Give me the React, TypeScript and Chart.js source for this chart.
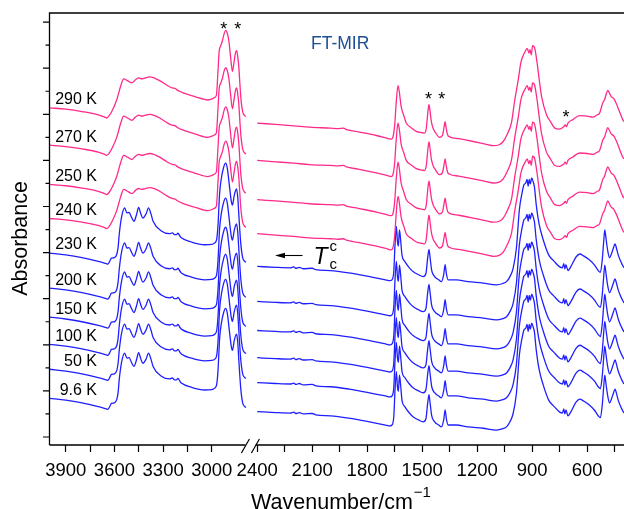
import React, { useEffect, useRef } from 'react';
import { Chart, registerables } from 'chart.js';

Chart.register(...registerables);

// ---------- data ----------
const temperatures = ['290 K', '270 K', '250 K', '240 K', '230 K', '200 K', '150 K', '100 K', '50 K', '9.6 K'];
// vertical stacking offset of each spectrum (absorbance, arb. units)
const offsets = [7.14, 6.33, 5.48, 4.74, 3.99, 3.23, 2.6, 2.01, 1.47, 0.84];
// true = above Tc (pink), false = below Tc (blue)
const aboveTc = [true, true, true, true, false, false, false, false, false, false];

// spectrum above Tc, high-wavenumber part
const pinkLeftWavenumbers = [4000, 3900, 3800, 3700, 3660, 3648, 3630, 3611, 3586, 3561, 3543, 3520, 3500, 3493, 3470, 3450, 3432, 3410, 3383, 3350, 3321, 3272, 3240, 3225, 3215, 3180, 3100, 3025, 2995, 2985, 2972, 2962, 2955, 2945, 2935, 2925, 2914, 2905, 2895, 2885, 2873, 2865, 2855, 2847, 2840, 2834, 2822, 2810, 2800, 2790];
const pinkLeftAbsorbance = [0, -0.03, -0.08, -0.15, -0.2, -0.22, -0.16, -0.04, 0.17, 0.48, 0.63, 0.59, 0.55, 0.54, 0.61, 0.65, 0.63, 0.65, 0.67, 0.64, 0.59, 0.48, 0.43, 0.42, 0.39, 0.33, 0.24, 0.17, 0.2, 0.22, 0.27, 0.8, 1.22, 1.35, 1.45, 1.6, 1.68, 1.62, 1.45, 1.12, 0.79, 0.95, 1.18, 1.24, 1.1, 0.9, 0.25, -0.08, -0.16, -0.19];
// spectrum above Tc, low-wavenumber part
const pinkRightWavenumbers = [2400, 2300, 2200, 2114, 2000, 1960, 1930, 1913, 1850, 1750, 1690, 1670, 1660, 1650, 1642, 1632, 1625, 1615, 1600, 1587, 1560, 1532, 1500, 1487, 1478, 1468, 1463, 1458, 1450, 1440, 1430, 1405, 1390, 1380, 1375, 1370, 1362, 1350, 1300, 1222, 1150, 1113, 1080, 1058, 1035, 1013, 995, 976, 962, 952, 940, 927, 918, 912, 905, 898, 886, 873, 860, 849, 822, 800, 777, 750, 728, 720, 713, 705, 680, 641, 600, 569, 545, 533, 515, 506, 496, 488, 480, 470, 455, 442, 425, 406, 400];
const pinkRightAbsorbance = [-0.33, -0.36, -0.39, -0.42, -0.44, -0.45, -0.44, -0.47, -0.52, -0.6, -0.66, -0.68, -0.64, -0.37, 0.1, 0.48, 0.35, 0.03, -0.17, -0.33, -0.43, -0.51, -0.54, -0.55, -0.45, -0.05, 0.07, -0.05, -0.3, -0.45, -0.52, -0.64, -0.6, -0.4, -0.3, -0.42, -0.58, -0.63, -0.67, -0.73, -0.79, -0.82, -0.8, -0.73, -0.56, -0.32, 0.17, 0.61, 0.98, 1.11, 1.21, 1.29, 1.19, 1.26, 1.15, 1.35, 1.29, 0.97, 0.56, 0.25, -0.15, -0.3, -0.44, -0.46, -0.41, -0.37, -0.41, -0.33, -0.26, -0.17, -0.18, -0.2, -0.15, -0.12, 0.11, 0.17, 0.3, 0.38, 0.33, 0.25, 0.2, 0.1, -0.07, -0.26, -0.3];

// spectrum below Tc, high-wavenumber part
const blueLeftWavenumbers = [4000, 3900, 3800, 3700, 3650, 3640, 3625, 3619, 3600, 3585, 3577, 3570, 3555, 3537, 3523, 3510, 3495, 3480, 3465, 3451, 3438, 3425, 3405, 3390, 3375, 3362, 3311, 3260, 3243, 3230, 3218, 3209, 3195, 3188, 3126, 3044, 3000, 2982, 2970, 2962, 2952, 2940, 2928, 2916, 2905, 2893, 2880, 2873, 2862, 2848, 2840, 2834, 2822, 2810, 2800, 2790];
const blueLeftAbsorbance = [0, -0.04, -0.1, -0.18, -0.23, -0.24, -0.15, -0.11, -0.1, -0.02, 0.14, 0.42, 0.8, 0.98, 0.87, 0.88, 0.78, 0.69, 0.82, 0.99, 0.86, 0.76, 0.85, 0.98, 0.85, 0.69, 0.48, 0.42, 0.44, 0.4, 0.4, 0.43, 0.36, 0.33, 0.24, 0.18, 0.19, 0.22, 0.3, 0.6, 1.3, 1.65, 1.85, 1.95, 1.85, 1.5, 1.12, 1.04, 1.25, 1.39, 1.2, 0.85, 0.22, -0.1, -0.17, -0.2];
// spectrum below Tc, low-wavenumber part
const blueRightWavenumbers = [2400, 2300, 2220, 2200, 2190, 2170, 2150, 2100, 2080, 2000, 1900, 1800, 1700, 1677, 1665, 1655, 1648, 1641, 1635, 1630, 1624, 1618, 1610, 1595, 1570, 1550, 1520, 1495, 1480, 1470, 1463, 1457, 1448, 1432, 1410, 1395, 1382, 1375, 1368, 1359, 1314, 1250, 1168, 1095, 1060, 1040, 1020, 1004, 986, 970, 955, 945, 935, 928, 922, 916, 910, 903, 895, 888, 878, 862, 840, 810, 780, 750, 735, 728, 722, 716, 705, 690, 660, 640, 620, 590, 560, 540, 528, 518, 510, 504, 497, 488, 478, 468, 458, 448, 440, 430, 415, 400];
const blueRightAbsorbance = [-0.29, -0.31, -0.32, -0.3, -0.33, -0.31, -0.34, -0.33, -0.36, -0.38, -0.43, -0.5, -0.58, -0.6, -0.58, -0.4, 0.2, 0.58, 0.25, 0.15, 0.5, 0.3, -0.05, -0.18, -0.32, -0.4, -0.47, -0.51, -0.45, -0.1, 0.08, -0.1, -0.38, -0.51, -0.58, -0.62, -0.45, -0.25, -0.45, -0.58, -0.58, -0.62, -0.65, -0.69, -0.66, -0.62, -0.5, -0.33, 0.11, 0.94, 1.31, 1.48, 1.52, 1.6, 1.45, 1.6, 1.5, 1.63, 1.55, 1.44, 1.05, 0.62, 0.29, -0.04, -0.18, -0.3, -0.32, -0.23, -0.34, -0.25, -0.38, -0.3, -0.08, -0.02, -0.06, -0.14, -0.26, -0.38, -0.42, -0.15, 0.25, 0.5, 0.3, 0.05, -0.1, -0.02, 0.1, 0.2, 0.1, -0.05, -0.2, -0.32];

// x-axis ticks (broken axis)
const tickWavenumbers = [3900, 3750, 3600, 3450, 3300, 3150, 3000, 2400, 2250, 2100, 1950, 1800, 1650, 1500, 1350, 1200, 1050, 900, 750, 600, 450];
const tickLabels = ['3900', '', '3600', '', '3300', '', '3000', '2400', '', '2100', '', '1800', '', '1500', '', '1200', '', '900', '', '600', ''];
// marked bands
const starWavenumbers = [2927, 2841, 1465, 1394, 716];
const starLevels = [8.94, 8.94, 7.42, 7.42, 7.03];

// ---------- layout helpers ----------
const PINK = '#ff2a8a';
const BLUE = '#1f1fff';
const FONT = '"Liberation Sans", Arial, Helvetica, sans-serif';
const AREA_LEFT = 49.5;
const AREA_TOP = 13;
const AREA_BOTTOM = 445;
const CANVAS_W = 640;
const CANVAS_H = 509;
const AREA_RIGHT = 625;
const Y_MIN = -8 / 46.1;
const Y_MAX = 424 / 46.1;

// broken wavenumber axis: 4000-2790 then 2400-400
function toAxis(w: number): number {
  return w > 2600 ? (4000 - w) * 0.16233 : 207.7 + (2400 - w) * 0.183333;
}

function buildPoints(ws: number[], as: number[], ws2: number[], as2: number[], off: number) {
  const pts: { x: number; y: number | null }[] = [];
  ws.forEach((w, i) => pts.push({ x: toAxis(w), y: as[i] + off }));
  pts.push({ x: (toAxis(2790) + toAxis(2400)) / 2, y: null });
  ws2.forEach((w, i) => pts.push({ x: toAxis(w), y: as2[i] + off }));
  return pts;
}

const decorPlugin = {
  id: 'decor',
  afterDraw(chart: any) {
    const ctx: CanvasRenderingContext2D = chart.ctx;
    const xs = chart.scales.x;
    const ys = chart.scales.y;
    ctx.save();
    ctx.strokeStyle = '#000';
    ctx.fillStyle = '#000';
    ctx.lineWidth = 1.3;
    // frame
    const bx1 = xs.getPixelForValue(toAxis(2790)) - 0.5;
    const bx2 = xs.getPixelForValue(toAxis(2400)) - 1.5;
    ctx.beginPath();
    ctx.moveTo(AREA_LEFT, AREA_BOTTOM);
    ctx.lineTo(AREA_LEFT, AREA_TOP);
    ctx.lineTo(CANVAS_W, AREA_TOP);
    ctx.moveTo(AREA_LEFT, AREA_BOTTOM);
    ctx.lineTo(bx1, AREA_BOTTOM);
    ctx.moveTo(bx2, AREA_BOTTOM);
    ctx.lineTo(CANVAS_W, AREA_BOTTOM);
    ctx.stroke();
    // break marks
    ctx.lineWidth = 1.2;
    ctx.beginPath();
    ctx.moveTo(bx1 - 4, AREA_BOTTOM + 8);
    ctx.lineTo(bx1 + 4, AREA_BOTTOM - 6);
    ctx.moveTo(bx1 + 6, AREA_BOTTOM + 8);
    ctx.lineTo(bx1 + 14, AREA_BOTTOM - 6);
    ctx.stroke();
    // y ticks (no labels)
    ctx.lineWidth = 1.2;
    ctx.beginPath();
    for (let n = 0; n <= 9; n++) {
      const py = ys.getPixelForValue(n);
      ctx.moveTo(AREA_LEFT - 6.5, py);
      ctx.lineTo(AREA_LEFT, py);
      if (n < 9) {
        const pm = ys.getPixelForValue(n + 0.5);
        ctx.moveTo(AREA_LEFT - 4, pm);
        ctx.lineTo(AREA_LEFT, pm);
      }
    }
    ctx.stroke();

    // temperature labels
    ctx.font = `16px ${FONT}`;
    ctx.textAlign = 'right';
    ctx.textBaseline = 'middle';
    temperatures.forEach((t, k) => {
      const py = ys.getPixelForValue(offsets[k]) - 8;
      ctx.fillText(t, 97, py);
    });

    // FT-MIR
    ctx.fillStyle = '#1d4f91';
    ctx.font = `17.5px ${FONT}`;
    ctx.textAlign = 'left';
    ctx.textBaseline = 'alphabetic';
    ctx.fillText('FT-MIR', 311, 49.3);

    // asterisks
    ctx.fillStyle = '#000';
    ctx.font = `18px ${FONT}`;
    ctx.textAlign = 'center';
    starWavenumbers.forEach((w, i) => {
      const px = xs.getPixelForValue(toAxis(w));
      const py = ys.getPixelForValue(starLevels[i]);
      ctx.fillText('*', px, py + 10);
    });

    // Tc arrow
    ctx.lineWidth = 1.1;
    ctx.beginPath();
    ctx.moveTo(283, 255.5);
    ctx.lineTo(302.5, 255.5);
    ctx.stroke();
    ctx.beginPath();
    ctx.moveTo(275, 255.5);
    ctx.lineTo(285, 252.7);
    ctx.lineTo(285, 258.3);
    ctx.closePath();
    ctx.fill();
    ctx.textAlign = 'left';
    ctx.font = `italic 23px ${FONT}`;
    ctx.fillText('T', 313.5, 263.7);
    ctx.font = `15px ${FONT}`;
    ctx.fillText('c', 329.5, 251.3);
    ctx.fillText('c', 329.5, 268.7);

    // axis titles
    ctx.font = `21.5px ${FONT}`;
    const main = 'Wavenumber/cm';
    const wMain = ctx.measureText(main).width;
    ctx.font = `15px ${FONT}`;
    const sup = '\u22121';
    const wSup = ctx.measureText(sup).width;
    const x0 = 341 - (wMain + wSup + 1) / 2;
    ctx.font = `21.5px ${FONT}`;
    ctx.fillText(main, x0, 509);
    ctx.font = `15px ${FONT}`;
    ctx.fillText(sup, x0 + wMain + 1, 497);

    ctx.save();
    ctx.translate(27, 238.5);
    ctx.rotate(-Math.PI / 2);
    ctx.textAlign = 'center';
    ctx.font = `21.5px ${FONT}`;
    ctx.fillText('Absorbance', 0, 0);
    ctx.restore();

    ctx.restore();
  },
};

export default function App() {
  const ref = useRef<HTMLCanvasElement>(null);
  useEffect(() => {
    const canvas = ref.current;
    if (!canvas) return;
    const datasets = temperatures.map((t, k) => {
      const pink = aboveTc[k];
      return {
        label: t,
        data: pink
          ? buildPoints(pinkLeftWavenumbers, pinkLeftAbsorbance, pinkRightWavenumbers, pinkRightAbsorbance, offsets[k])
          : buildPoints(blueLeftWavenumbers, blueLeftAbsorbance, blueRightWavenumbers, blueRightAbsorbance, offsets[k]),
        borderColor: pink ? PINK : BLUE,
        borderWidth: 1.3,
        pointRadius: 0,
        fill: false,
        spanGaps: false,
        cubicInterpolationMode: 'monotone' as const,
      };
    });
    const chart = new Chart(canvas, {
      type: 'line',
      data: { datasets },
      options: {
        responsive: false,
        animation: false,
        devicePixelRatio: 1,
        layout: { padding: { left: AREA_LEFT, top: AREA_TOP, right: CANVAS_W - AREA_RIGHT, bottom: 0 } },
        plugins: { legend: { display: false }, tooltip: { enabled: false }, title: { display: false } },
        scales: {
          x: {
            type: 'linear',
            min: 0,
            max: AREA_RIGHT - AREA_LEFT,
            afterFit: (s: any) => {
              s.height = CANVAS_H - AREA_BOTTOM;
            },
            afterBuildTicks: (s: any) => {
              s.ticks = tickWavenumbers.map((w) => ({ value: toAxis(w) }));
            },
            ticks: {
              autoSkip: false,
              maxRotation: 0,
              minRotation: 0,
              padding: 8,
              color: '#000',
              font: { family: FONT, size: 18.5 },
              callback: (_v: any, i: number) => tickLabels[i],
            },
            grid: {
              display: true,
              drawOnChartArea: false,
              drawTicks: true,
              tickLength: 7,
              tickColor: '#000',
              tickWidth: 1.2,
            },
            border: { display: false },
          },
          y: { display: false, min: Y_MIN, max: Y_MAX },
        },
      },
      plugins: [decorPlugin],
    });
    return () => chart.destroy();
  }, []);
  return (
    <div style={{ position: 'fixed', left: 0, top: 0, width: 624, height: 509, overflow: 'hidden', background: '#fff' }}>
      <canvas ref={ref} width={CANVAS_W} height={CANVAS_H} style={{ display: 'block' }} />
    </div>
  );
}
